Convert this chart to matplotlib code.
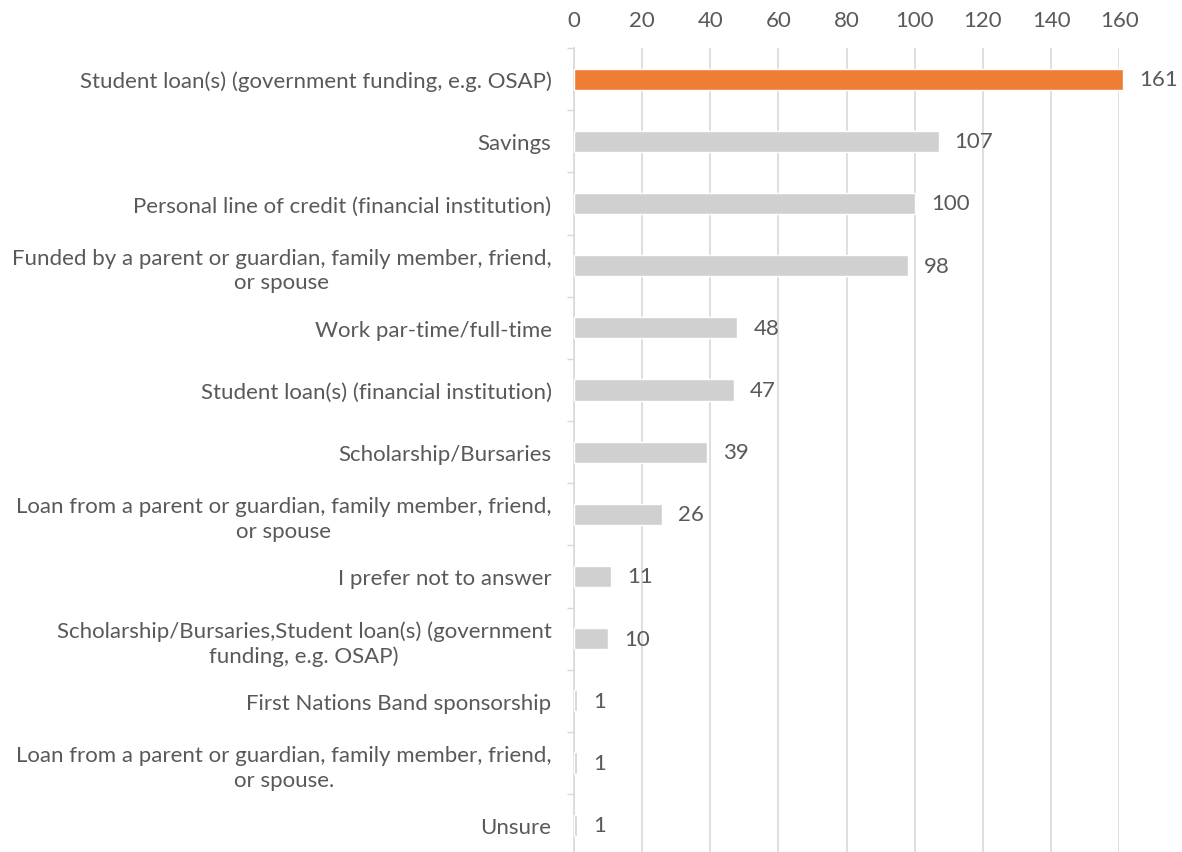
import matplotlib.pyplot as plt
import numpy as np

kategorie = [
    "Student loan(s) (government funding, e.g. OSAP)",
    "Savings",
    "Personal line of credit (financial institution)",
    "Funded by a parent or guardian, family member, friend,\nor spouse",
    "Work par-time/full-time",
    "Student loan(s) (financial institution)",
    "Scholarship/Bursaries",
    "Loan from a parent or guardian, family member, friend,\nor spouse",
    "I prefer not to answer",
    "Scholarship/Bursaries,Student loan(s) (government\nfunding, e.g. OSAP)",
    "First Nations Band sponsorship",
    "Loan from a parent or guardian, family member, friend,\nor spouse.",
    "Unsure",
]
wartosci = [161, 107, 100, 98, 48, 47, 39, 26, 11, 10, 1, 1, 1]
x_ticks = [0, 20, 40, 60, 80, 100, 120, 140, 160]

szary = "#d0d0d0"
pomaranczowy = "#ed7d31"
tekst = "#595959"
linia = "#d9d9d9"

plt.rcParams["font.family"] = ["Lato", "DejaVu Sans"]

fig = plt.figure(figsize=(11.82, 8.53), dpi=100)
ax = fig.add_axes([0.4854, -0.005, 0.4616, 0.9475])

y = np.arange(len(kategorie))
kolory = [pomaranczowy] + [szary] * (len(kategorie) - 1)
bars = ax.barh(y, wartosci, height=0.34, color=kolory, edgecolor="white",
               linewidth=1.0, zorder=3, clip_on=False)
for bar, v in zip(bars, wartosci):
    ax.text(bar.get_width() + 4.7, bar.get_y() + bar.get_height() / 2, str(v),
            va="center", ha="left", fontsize=16, color=tekst)

ax.set_xlim(0, 160)
ax.set_ylim(len(kategorie) - 0.5, -0.5)
ax.xaxis.tick_top()
ax.set_xticks(x_ticks)
ax.tick_params(axis="x", length=0, pad=13, labelsize=16, labelcolor=tekst)
ax.set_yticks(y)
ax.set_yticklabels(kategorie, fontsize=16, color=tekst, linespacing=1.3)
ax.tick_params(axis="y", which="major", length=0, pad=16)
ax.set_yticks(np.arange(-0.5, len(kategorie), 1), minor=True)
ax.tick_params(axis="y", which="minor", length=5, color=linia, width=1)
for lab in ax.get_yticklabels():
    lab.set_multialignment("center")

ax.grid(axis="x", color=linia, linewidth=1.2, zorder=0)
for s in ["top", "right", "bottom"]:
    ax.spines[s].set_visible(False)
ax.spines["left"].set_color(linia)
ax.spines["left"].set_linewidth(1.2)

plt.savefig("out.png", dpi=100)
